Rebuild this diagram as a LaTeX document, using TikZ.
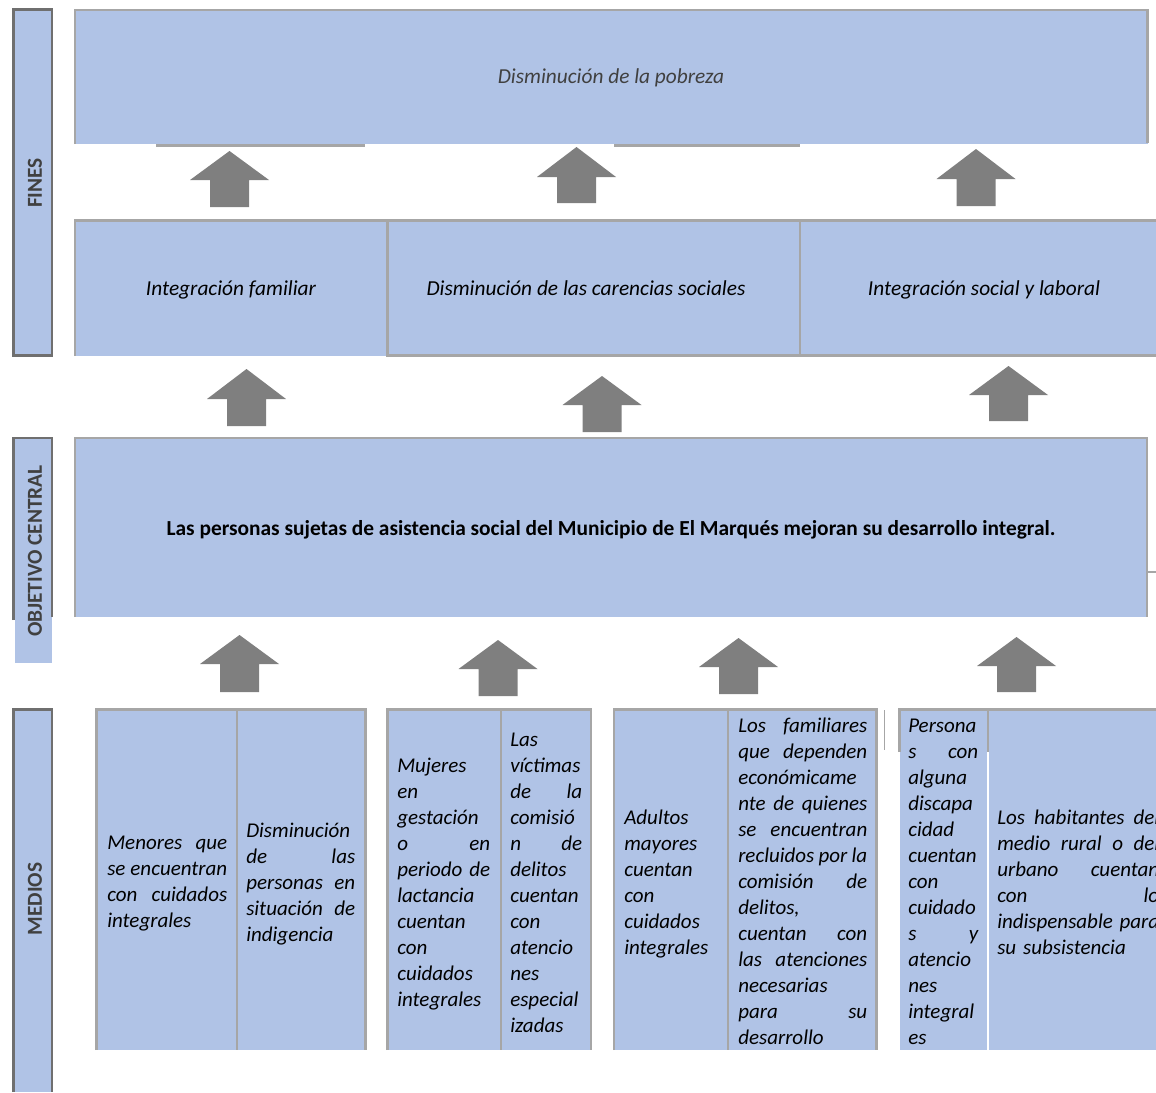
\documentclass[tikz,border=0pt]{standalone}
\usepackage{fontspec}
\setmainfont{Carlito}
\definecolor{boxfill}{HTML}{B0C3E6}
\definecolor{edgecol}{HTML}{A6A6A6}
\definecolor{sidecol}{HTML}{6F6F6F}
\definecolor{arrowcol}{HTML}{7F7F7F}
\definecolor{labelcol}{HTML}{404040}
\newcommand{\blockup}[4]{%
  \fill[arrowcol] ({#1-39.5},#3) -- (#1,#2) -- ({#1+39.5},#3) -- ({#1+19.5},#3) --
    ({#1+19.5},#4) -- ({#1-19.5},#4) -- ({#1-19.5},#3) -- cycle;}
\begin{document}
\begin{tikzpicture}[x=0.75pt,y=-0.75pt,
  edgegray/.style={draw=edgecol,line width=1.9pt},
  sideedge/.style={draw=sidecol,line width=2pt},
  sidelabel/.style={rotate=90,inner sep=0pt,text=labelcol,font=\fontsize{16}{19}\selectfont\bfseries},
  boxtext/.style={anchor=base,inner sep=0pt,font=\fontsize{16}{19}\selectfont\itshape},
  celltext/.style={anchor=base west,inner sep=0pt,align=left,font=\fontsize{15.75}{19.5}\selectfont\itshape}]
\useasboundingbox (0,0) rectangle (1156,1092);
\clip (0,0) rectangle (1156,1092);

% ---------- sidebars ----------
\fill[boxfill] (13.5,9.8) rectangle (52,355.5);
\draw[sideedge] (13.5,9.8) rectangle (52,355.5);
\node[sidelabel] (fines) at (35,183) {FINES};

\fill[boxfill] (15,437) rectangle (52,663);
\draw[sideedge] (13.5,620) -- (13.5,438) -- (52,438) -- (52,617);
\node[sidelabel] (objetivo) at (35,551) {OBJETIVO CENTRAL};

\fill[boxfill] (13.5,709.5) rectangle (52,1092);
\draw[sideedge] (13.5,1092) -- (13.5,709.5) -- (52,709.5) -- (52,1092);
\node[sidelabel] (medios) at (35,899) {MEDIOS};

% ---------- top box ----------
\fill[boxfill] (75,9.8) rectangle (1147.5,144);
\draw[edgegray] (75,144) -- (75,9.8) -- (1147.5,9.8) -- (1147.5,143);
\draw[edgegray] (156,145.5) -- (365,145.5);
\draw[edgegray] (614,145.5) -- (800,145.5);
\node[boxtext,text=labelcol] (pobreza) at (611,83) {Disminución de la pobreza};

% ---------- second row ----------
\fill[boxfill] (75,220.5) rectangle (1156,355.5);
\draw[edgegray] (75,356) -- (75,220.5) -- (1156,220.5);
\draw[edgegray] (387.5,220.5) -- (387.5,355.5) -- (1156,355.5);
\draw[edgegray] (800,220.5) -- (800,355.5);
\node[boxtext] (familiar) at (231,295) {Integración familiar};
\node[boxtext] (carencias) at (586,295) {Disminución de las carencias sociales};
\node[boxtext] (laboral) at (984,295) {Integración social y laboral};

% ---------- central objective ----------
\fill[boxfill] (75,438) rectangle (1147,617);
\draw[edgegray] (75,617) -- (75,438) -- (1147,438) -- (1147,617);
\draw[draw=edgecol,line width=0.8pt] (1148,572) -- (1156,572);
\node[anchor=base,inner sep=0pt,font=\fontsize{16.05}{19}\selectfont\bfseries] (objetivotxt) at (611,535)
  {Las personas sujetas de asistencia social del Municipio de El Marqués mejoran su desarrollo integral.};

% ---------- bottom cells ----------
\fill[boxfill] (96.5,709.5) rectangle (365.5,1050);
\draw[edgegray] (96.5,1050) -- (96.5,709.5) -- (365.5,709.5) -- (365.5,1050);
\draw[draw=edgecol,line width=1.2pt] (236.7,709.5) -- (236.7,1050);

\fill[boxfill] (387.5,709.5) rectangle (591,1050);
\draw[edgegray] (387.5,1050) -- (387.5,709.5) -- (591,709.5) -- (591,1050);
\draw[edgegray] (501,709.5) -- (501,1050);

\fill[boxfill] (614,709.5) rectangle (876.7,1050);
\draw[edgegray] (614,1050) -- (614,709.5) -- (876.7,709.5) -- (876.7,1050);
\draw[edgegray] (728,709.5) -- (728,1050);
\draw[draw=edgecol,line width=1.2pt] (884.5,710) -- (884.5,750);

\fill[boxfill] (899.5,709.5) rectangle (1156,1050);
\draw[edgegray] (899.5,752) -- (899.5,709.5) -- (1156,709.5);
\draw[edgegray] (988,709.5) -- (988,752);
\draw[white,line width=1.5pt] (988,752) -- (988,1050);

\node[celltext,text width=90pt] (menores) at (107,849)
 {Menores\hfill que\\se\hfill encuentran\\con\hfill cuidados\\integrales};
\node[celltext,text width=81.75pt] (indigencia) at (246,837)
 {Disminución\\de\hfill las\\personas\hfill en\\situación\hfill de\\indigencia};
\node[celltext,text width=69.75pt] (mujeres) at (397,772)
 {Mujeres\\en\\gestación\\o\hfill en\\periodo\hfill de\\lactancia\\cuentan\\con\\cuidados\\integrales};
\node[celltext,text width=54pt] (victimas) at (510,746)
 {Las\\víctimas\\de\hfill la\\comisió\\n\hfill de\\delitos\\cuentan\\con\\atencio\\nes\\especial\\izadas};
\node[celltext,text width=71.25pt] (adultos) at (624,824)
 {Adultos\\mayores\\cuentan\\con\\cuidados\\integrales};
\node[celltext,text width=96.75pt] (familiares) at (738,732)
 {Los\hfill familiares\\que\hfill dependen\\económicame\\nte\hfill de\hfill quienes\\se\hfill encuentran\\recluidos\hfill por\hfill la\\comisión\hfill de\\delitos,\\cuentan\hfill con\\las\hfill atenciones\\necesarias\\para\hfill su\\desarrollo};
\node[celltext,text width=52.5pt] (discapacidad) at (908,732)
 {Persona\\s\hfill con\\alguna\\discapa\\cidad\\cuentan\\con\\cuidado\\s\hfill y\\atencio\\nes\\integral\\es};
\node[celltext,text width=121.5pt] (habitantes) at (997,824)
 {Los\hfill habitantes\hfill del\\medio\hfill rural\hfill o\hfill del\\urbano\hfill cuentan\\con\hfill lo\\indispensable\hfill para\\su subsistencia};

% ---------- block arrows ----------
\blockup{229.5}{151}{180}{207}
\blockup{576.5}{147}{177}{203}
\blockup{976}{149}{179}{206}
\blockup{246.5}{369}{399}{426}
\blockup{602}{376}{405}{432}
\blockup{1008.5}{366}{395}{421}
\blockup{239.5}{635}{664}{692}
\blockup{498}{640}{669}{696}
\blockup{738.5}{638}{667}{694}
\blockup{1016.5}{637}{666}{692}
\end{tikzpicture}
\end{document}
